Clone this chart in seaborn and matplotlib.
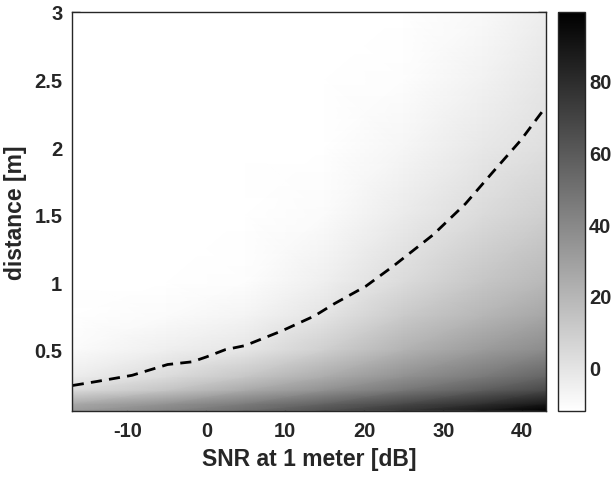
import numpy as np
import pandas as pd
import seaborn as sns
import matplotlib.pyplot as plt

# grid (values in colour-bar units)
snr_cols = [-17, -5, 5, 15, 25, 35, 43]
dist_rows = [0.05, 0.1, 0.2, 0.3, 0.5, 0.75, 1.0, 1.5, 2.0, 2.5, 3.0]
col_m17 = [32, 25, 4, -4, -10, -12, -12, -12, -12, -12, -12]
col_m5 = [42, 35, 14, 4, -5, -10, -12, -12, -12, -12, -12]
col_5 = [52, 45, 25, 13, -1, -7, -11, -12, -12, -12, -12]
col_15 = [64, 56, 36, 24, 9, 0, -5, -10, -12, -12, -12]
col_25 = [76, 67, 47, 36, 21, 11, 4, -3, -8, -11, -12]
col_35 = [88, 78, 58, 46, 31, 20, 13, 4, -2, -6, -9]
col_43 = [99, 88, 67, 55, 38, 27, 19, 9, 2, -1, -4]

# dashed threshold curve
curve_snr = [-16.9, -13.9, -9.4, -4.9, -1.8, 0.0, 2.4, 4.9, 9.6, 13.7, 16.2,
             20.2, 23.7, 28.7, 32.8, 36.2, 39.8, 43.0]
curve_dist = [0.235, 0.264, 0.31, 0.39, 0.41, 0.446, 0.50, 0.53, 0.64, 0.75, 0.84,
              0.97, 1.12, 1.35, 1.58, 1.81, 2.05, 2.30]

sns.set_style("white")
plt.rcParams['font.family'] = ['Liberation Sans', 'DejaVu Sans']
plt.rcParams['font.weight'] = 'bold'
plt.rcParams['axes.unicode_minus'] = False
ink = '#262626'

field = np.array([col_m17, col_m5, col_5, col_15, col_25, col_35, col_43]).T
S, D = np.meshgrid(snr_cols, dist_rows)

fig = plt.figure(figsize=(6.14, 4.89), dpi=100)
ax = fig.add_axes([0.1173, 0.1575, 0.772, 0.816])
cax = fig.add_axes([0.9088, 0.1575, 0.044, 0.816])

mesh = ax.pcolormesh(S, D, field, cmap='gray_r', vmin=-12, vmax=99,
                     shading='gouraud', rasterized=True)

curve = pd.DataFrame({'snr': curve_snr, 'dist': curve_dist})
sns.lineplot(data=curve, x='snr', y='dist', ax=ax, color='black',
             linewidth=2, linestyle=(0, (4, 2.6)), sort=False)

ax.set_xlim(-17, 43)
ax.set_ylim(0.046, 3)
ax.set_xticks([-10, 0, 10, 20, 30, 40])
ax.set_yticks([0.5, 1, 1.5, 2, 2.5, 3])
ax.set_yticklabels(['0.5', '1', '1.5', '2', '2.5', '3'])
ax.set_xlabel('SNR at 1 meter [dB]', fontsize=16.5, fontweight='bold', color=ink, labelpad=5)
ax.set_ylabel('distance [m]', fontsize=16.5, fontweight='bold', color=ink, labelpad=5)
ax.tick_params(direction='in', length=6, width=1, colors=ink, labelsize=14.5,
               bottom=True, left=True, top=True, right=True, pad=7)
for sp in ax.spines.values():
    sp.set_visible(True)
    sp.set_color(ink)
    sp.set_linewidth(1)

cb = fig.colorbar(mesh, cax=cax)
cb.set_ticks([0, 20, 40, 60, 80])
cax.tick_params(direction='in', length=5, width=1, colors=ink, labelsize=14.5,
                right=True, pad=3)
cb.outline.set_edgecolor(ink)
cb.outline.set_linewidth(1)

fig.savefig('out.png', dpi=100)
